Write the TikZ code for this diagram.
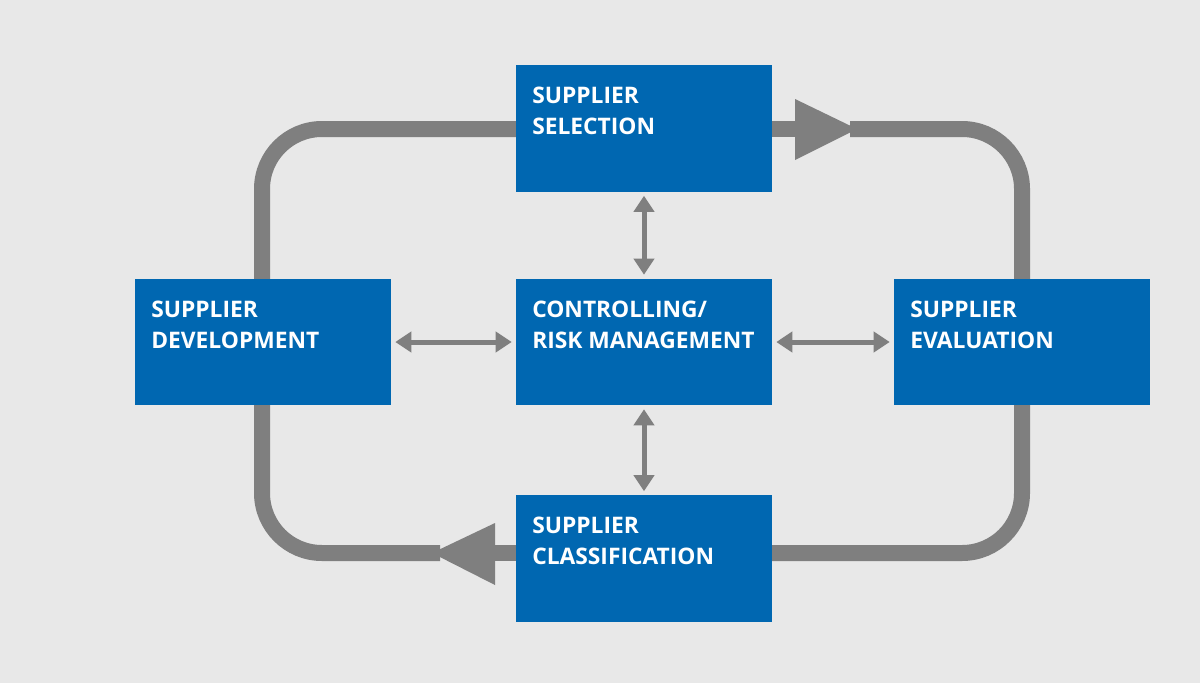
\documentclass[tikz,border=0pt]{standalone}
\usepackage{fontspec}
\setmainfont{Open Sans}
\usetikzlibrary{arrows.meta}
\definecolor{bg}{HTML}{E8E8E8}
\definecolor{bx}{HTML}{0067B1}
\definecolor{gr}{HTML}{7F7F7F}
\begin{document}
\begin{tikzpicture}[x=0.025cm,y=-0.025cm,
  box/.style={fill=bx,draw=none,minimum width=6.4cm,minimum height=3.15cm,inner sep=0pt},
  lbl/.style={anchor=north west,text=white,font=\fontsize{16.2pt}{22pt}\selectfont\bfseries,align=left,inner sep=0pt},
  loop/.style={draw=gr,line width=16*0.025cm,rounded corners=60*0.025cm},
  dbl/.style={draw=gr,line width=5*0.025cm,{Triangle[width=20*0.025cm,length=16*0.025cm]}-{Triangle[width=20*0.025cm,length=16*0.025cm]}}]
\fill[bg] (0,0) rectangle (1200,683);
\useasboundingbox (0,0) rectangle (1200,683);
% loop
\draw[loop] (516,129) -| (262,279);
\draw[loop] (850,129) -| (1022,279);
\draw[loop] (1022,405) |- (772,553);
\draw[loop] (440,553) -| (262,405);
\draw[draw=gr,line width=16*0.025cm] (772,129) -- (800,129);
\draw[draw=gr,line width=16*0.025cm] (516,553) -- (490,553);
\fill[gr] (795,99) -- (857,129) -- (795,160) -- cycle;
\fill[gr] (495,523) -- (432,553) -- (495,585) -- cycle;
% boxes
\node[box] (sel) at (644,128.5) {};
\node[box] (ctl) at (644,342) {};
\node[box] (dev) at (263,342) {};
\node[box] (eva) at (1022,342) {};
\node[box] (cla) at (644,558.5) {};
\node[lbl] (tsel) at (532,87) {SUPPLIER\\SELECTION};
\node[lbl] (tctl) at (532,301) {CONTROLLING/\\RISK MANAGEMENT};
\node[lbl] (tdev) at (151,301) {SUPPLIER\\DEVELOPMENT};
\node[lbl] (teva) at (910,301) {SUPPLIER\\EVALUATION};
\node[lbl] (tcla) at (532,517) {SUPPLIER\\CLASSIFICATION};
% double arrows
\draw[dbl] ([yshift=-4*0.025cm]sel.south) -- ([yshift=4*0.025cm]ctl.north);
\draw[dbl] ([yshift=4*0.025cm]cla.north) -- ([yshift=-4*0.025cm]ctl.south);
\draw[dbl] ([xshift=4*0.025cm]dev.east) -- ([xshift=-4*0.025cm]ctl.west);
\draw[dbl] ([xshift=4*0.025cm]ctl.east) -- ([xshift=-4*0.025cm]eva.west);
\end{tikzpicture}
\end{document}
